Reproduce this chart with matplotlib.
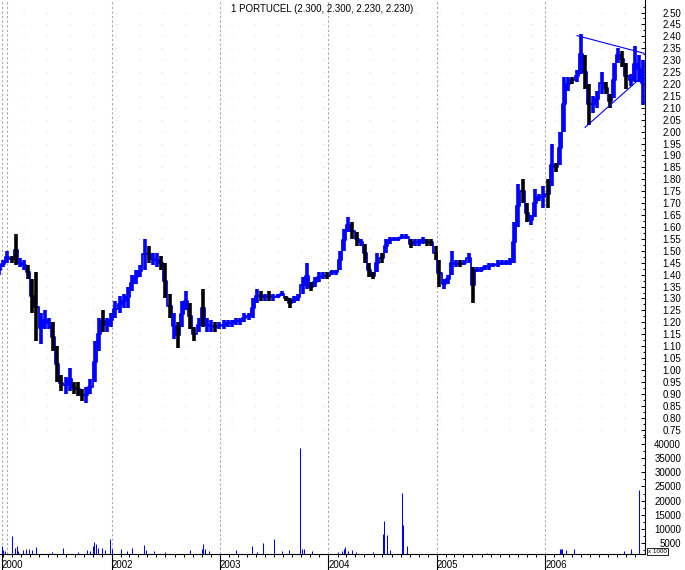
import matplotlib
matplotlib.use("Agg")
import matplotlib.pyplot as plt
from matplotlib.ticker import FixedLocator
import numpy as np
import pandas as pd

plt.rcParams["font.family"] = ["Liberation Sans", "DejaVu Sans"]

title = "1 PORTUCEL (2.300, 2.300, 2.230, 2.230)"

# two-week price bars, first one in mid December 2000
bar_start = "2000-12-18"
price_low = [
    1.40, 1.43, 1.45, 1.45, 1.44, 1.43, 1.42, 1.38, 1.24, 1.12,
    1.11, 1.17, 1.17, 1.08, 0.95, 0.91, 0.90, 0.91, 0.90, 0.89,
    0.87, 0.86, 0.90, 0.95, 1.08, 1.16, 1.16, 1.18, 1.22, 1.24,
    1.26, 1.26, 1.33, 1.36, 1.39, 1.42, 1.45, 1.44, 1.43, 1.42,
    1.30, 1.22, 1.13, 1.09, 1.18, 1.25, 1.17, 1.12, 1.16, 1.18,
    1.16, 1.16, 1.16, 1.17, 1.17, 1.18, 1.18, 1.19, 1.19, 1.20,
    1.21, 1.22, 1.28, 1.29, 1.29, 1.29, 1.29, 1.30, 1.31, 1.29,
    1.26, 1.28, 1.29, 1.32, 1.34, 1.33, 1.35, 1.37, 1.38, 1.38,
    1.40, 1.40, 1.42, 1.50, 1.58, 1.55, 1.52, 1.52, 1.45, 1.39,
    1.38, 1.41, 1.45, 1.49, 1.53, 1.54, 1.54, 1.55, 1.55, 1.51,
    1.52, 1.52, 1.53, 1.52, 1.52, 1.46, 1.35, 1.34, 1.36, 1.40,
    1.43, 1.43, 1.44, 1.45, 1.28, 1.41, 1.41, 1.42, 1.42, 1.43,
    1.43, 1.44, 1.44, 1.44, 1.45, 1.60, 1.70, 1.62, 1.61, 1.64,
    1.71, 1.68, 1.68, 1.77, 1.83, 1.86, 2.00, 2.17, 2.20, 2.21,
    2.24, 2.18, 2.03, 2.08, 2.10, 2.16, 2.16, 2.10, 2.14, 2.29,
    2.27, 2.18, 2.19, 2.21, 2.21, 2.11,
]
price_high = [
    1.44, 1.46, 1.50, 1.48, 1.57, 1.47, 1.46, 1.44, 1.38, 1.41,
    1.24, 1.25, 1.22, 1.20, 1.10, 0.98, 0.97, 1.01, 0.95, 0.95,
    0.92, 0.93, 0.96, 1.12, 1.22, 1.25, 1.22, 1.24, 1.29, 1.31,
    1.32, 1.35, 1.40, 1.42, 1.44, 1.55, 1.52, 1.49, 1.49, 1.48,
    1.45, 1.32, 1.24, 1.20, 1.29, 1.33, 1.28, 1.18, 1.22, 1.34,
    1.22, 1.21, 1.20, 1.20, 1.21, 1.21, 1.21, 1.22, 1.22, 1.24,
    1.24, 1.30, 1.34, 1.33, 1.32, 1.33, 1.32, 1.32, 1.33, 1.31,
    1.30, 1.31, 1.32, 1.39, 1.45, 1.37, 1.39, 1.41, 1.41, 1.41,
    1.42, 1.42, 1.50, 1.59, 1.64, 1.62, 1.58, 1.55, 1.53, 1.45,
    1.41, 1.49, 1.49, 1.55, 1.56, 1.56, 1.56, 1.57, 1.57, 1.55,
    1.55, 1.55, 1.56, 1.55, 1.55, 1.52, 1.46, 1.38, 1.40, 1.50,
    1.46, 1.46, 1.46, 1.49, 1.43, 1.43, 1.43, 1.44, 1.45, 1.45,
    1.46, 1.46, 1.46, 1.47, 1.62, 1.78, 1.80, 1.70, 1.65, 1.76,
    1.74, 1.77, 1.80, 1.95, 1.87, 2.00, 2.23, 2.23, 2.23, 2.26,
    2.41, 2.32, 2.20, 2.15, 2.17, 2.25, 2.21, 2.16, 2.29, 2.35,
    2.34, 2.29, 2.24, 2.36, 2.32, 2.30,
]
# u = closed up (blue), d = closed down (black), ten bars per group
bar_dir = "".join([
    "uuudduuddd", "uuuddduudd", "duuuuduuuu", "uuuuuuduud",
    "dduduuddud", "uuduuuuuuu", "uuududuuud", "duuuuduuud",
    "uuuuuddudd", "duduuuuuud", "uuudddduuu", "uduuduuuuu",
    "uuuuuudduu", "uududuuudu", "udduuudduu", "dduuuu",
])

# volume, in thousands of shares
vol_years = [
    2000.986, 2001.000, 2001.016, 2001.083, 2001.108, 2001.124, 2001.139,
    2001.185, 2001.210, 2001.240, 2001.262, 2001.299, 2001.453, 2001.554,
    2001.692, 2001.770, 2001.800, 2001.825, 2001.840, 2001.856, 2001.871,
    2001.908, 2001.939, 2001.985, 2002.001, 2002.084, 2002.139, 2002.191,
    2002.299, 2002.314, 2002.391, 2002.492, 2002.723, 2002.831, 2002.846,
    2002.861, 2002.901, 2003.145, 2003.298, 2003.339, 2003.399, 2003.501,
    2003.569, 2003.637, 2003.738, 2003.757, 2003.775, 2003.852, 2004.091,
    2004.128, 2004.144, 2004.153, 2004.184, 2004.215, 2004.252, 2004.414,
    2004.507, 2004.516, 2004.544, 2004.568, 2004.682, 2004.691, 2004.723,
    2005.461, 2006.137, 2006.146, 2006.158, 2006.192, 2006.269, 2006.730,
    2006.792, 2006.869,
]
vol_k = [
    3900, 2500, 2100, 7400, 3300, 3900, 2100,
    2500, 2800, 2800, 2500, 3650, 1650, 3300,
    1650, 2500, 2100, 3900, 5440, 4600, 3300,
    3300, 2500, 6380, 2800, 3000, 2100, 3300,
    4250, 2500, 2100, 1650, 2500, 3000, 4600,
    2800, 2100, 2500, 3900, 1650, 4850, 6380,
    2100, 2500, 38650, 2800, 3000, 2100, 1650,
    2100, 2800, 3650, 2100, 2500, 1650, 1650,
    8150, 12770, 7800, 2500, 22800, 11350, 3900,
    1300, 3000, 3000, 3000, 2500, 2800, 2100,
    2800, 23760,
]

# triangle drawn over 2006
tri_upper_x = [2006.294, 2006.912]
tri_upper_y = [2.403, 2.329]
tri_lower_x = [2006.368, 2006.912]
tri_lower_y = [2.018, 2.238]

year_ticks = [2000.986, 2002, 2003, 2004, 2005, 2006]
year_labels = ["2000", "2002", "2003", "2004", "2005", "2006"]
year_grid = [2000.986, 2001.037, 2002, 2003, 2004, 2005, 2006]

price_ticks = np.round(np.arange(0.75, 2.501, 0.05), 2)
vol_ticks = list(range(5000, 40001, 5000))


def frac_year(dates):
    return dates.year + (dates.dayofyear - 1) / 365.25


BLUE = "#0000ff"
W, H = 685, 570
fig = plt.figure(figsize=(W / 100, H / 100), dpi=100)
ax = fig.add_axes([0, (H - 554) / H, 645 / W, 554 / H])
axv = ax.twinx()
ax.yaxis.tick_right()

ax.set_xlim(2000.970, 2006.921)
ax.set_ylim(0.2276, 2.5525)
axv.set_ylim(1064, 197500)

# grid
for gx in year_grid:
    ax.axvline(gx, color="#a8a8a8", lw=0.75, ls=(0, (2.2, 2.2)), zorder=0)
for p in price_ticks:
    ax.axhline(p, color="#e8c8e8", lw=0.8, ls=(0, (0.8, 20)), zorder=0)

# price bars, joined by a thin step line so the trace stays continuous
dates = frac_year(pd.date_range(bar_start, periods=len(price_low), freq="14D"))
lo = np.array(price_low)
hi = np.array(price_high)
colors = [BLUE if c == "u" else "#000000" for c in bar_dir]
ax.step(dates, (lo + hi) / 2, where="mid", color=BLUE, lw=1.3, zorder=2)
ax.vlines(dates, lo, hi, colors=colors, lw=2.6, zorder=3)

# triangle
ax.plot(tri_upper_x, tri_upper_y, color=BLUE, lw=0.8, zorder=4)
ax.plot(tri_lower_x, tri_lower_y, color=BLUE, lw=0.8, zorder=4)

# volume
axv.vlines(vol_years, 0, vol_k, colors=BLUE, lw=0.75)

# spines
for a in (ax, axv):
    a.spines["left"].set_visible(False)
    a.spines["top"].set_visible(False)
axv.spines["right"].set_visible(False)
axv.spines["bottom"].set_visible(False)
ax.spines["right"].set_linewidth(0.8)
ax.spines["bottom"].set_linewidth(0.8)

# price axis
ax.set_yticks(price_ticks, ["%.2f" % p for p in price_ticks])
ax.yaxis.set_minor_locator(FixedLocator(np.arange(0.725, 2.55, 0.05)))
ax.tick_params(axis="y", which="major", direction="in", length=3.2, width=0.7,
               pad=26, labelsize=7, right=True, left=False)
ax.tick_params(axis="y", which="minor", direction="in", length=1.8, width=0.7,
               right=True, left=False)
plt.setp(ax.get_yticklabels(), ha="right")

# volume axis
axv.set_yticks(vol_ticks, [str(v) for v in vol_ticks])
axv.yaxis.set_minor_locator(FixedLocator(np.arange(2500, 42600, 2500)))
axv.tick_params(axis="y", which="major", direction="in", length=3.2, width=0.7,
                pad=26, labelsize=7)
axv.tick_params(axis="y", which="minor", direction="in", length=1.8, width=0.7)
plt.setp(axv.get_yticklabels(), ha="right")

# time axis
ax.set_xticks(year_ticks, year_labels)
months = frac_year(pd.date_range("2001-01-01", "2006-11-30", freq="MS"))
ax.xaxis.set_minor_locator(FixedLocator(months))
ax.tick_params(axis="x", which="major", direction="out", length=11.5, width=0.8,
               pad=-7.2, labelsize=7)
ax.tick_params(axis="x", which="minor", direction="out", length=2.2, width=0.7)
plt.setp(ax.get_xticklabels(), ha="left")

ax.text(0.5, (554 - 9) / 554, title, transform=ax.transAxes, ha="center",
        va="center", fontsize=7)

fig.text(648 / W, 1 - 551.5 / H, "x 1000", fontsize=4.5, ha="left", va="center",
         bbox=dict(boxstyle="square,pad=0.12", fc="white", ec="black", lw=0.6))

fig.savefig("out.png", dpi=100)
